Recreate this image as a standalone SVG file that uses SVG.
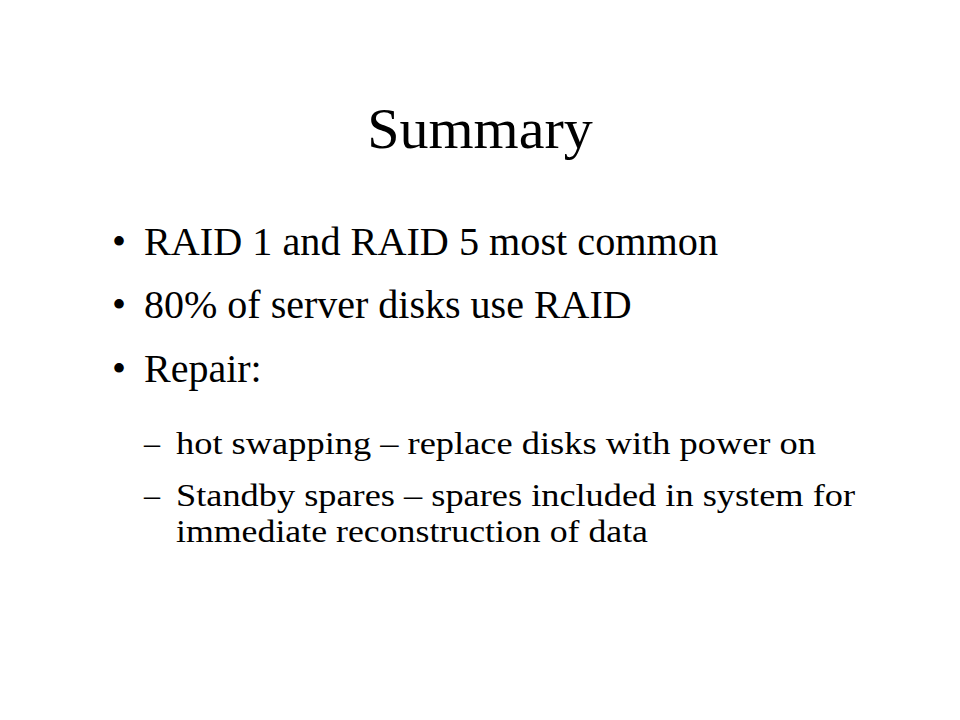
<svg xmlns="http://www.w3.org/2000/svg" width="960" height="720" viewBox="0 0 960 720">
<style>
text{font-family:"Liberation Serif","Times New Roman",serif;fill:#000}
.t{font-size:58px}
.b{font-size:40px}
.s{font-size:32px}
</style>
<rect width="960" height="720" fill="#fff"/>
<g id="title"><text class="t" x="480" y="148" text-anchor="middle">Summary</text></g>
<g id="bullets">
<text class="b" x="112" y="255">•</text>
<text class="b" x="144" y="255" textLength="574" lengthAdjust="spacingAndGlyphs">RAID 1 and RAID 5 most common</text>
<text class="b" x="112" y="318">•</text>
<text class="b" x="144" y="318">80% of server disks use RAID</text>
<text class="b" x="112" y="382">•</text>
<text class="b" x="144" y="382">Repair:</text>
</g>
<g id="subbullets">
<text class="s" x="144" y="454">–</text>
<text class="s" x="176" y="454" textLength="640" lengthAdjust="spacingAndGlyphs">hot swapping – replace disks with power on</text>
<text class="s" x="144" y="506">–</text>
<text class="s" x="176" y="506" textLength="679" lengthAdjust="spacingAndGlyphs">Standby spares – spares included in system for</text>
<text class="s" x="176" y="542" textLength="472" lengthAdjust="spacingAndGlyphs">immediate reconstruction of data</text>
</g>
</svg>
